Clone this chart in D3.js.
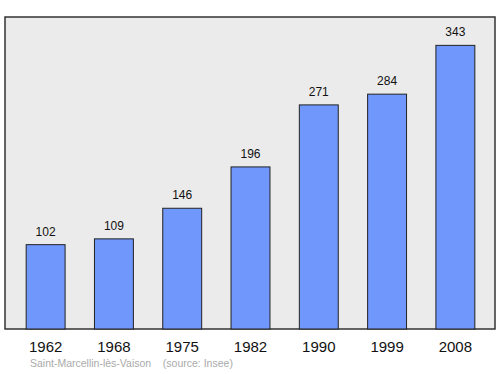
<!DOCTYPE html>
<html>
<head>
<meta charset="utf-8">
<script src="https://cdn.jsdelivr.net/npm/d3@7"></script>
<style>
  body { margin: 0; background: #fff; }
  text { font-family: "Liberation Sans", Arial, sans-serif; }
</style>
</head>
<body>
<div id="chart"></div>
<script>
var years = ['1962', '1968', '1975', '1982', '1990', '1999', '2008'];
var population = [102, 109, 146, 196, 271, 284, 343];
var sourceLabel = 'Saint-Marcellin-lès-Vaison    (source: Insee)';

const W = 500, H = 374;
const BOX = { LEFT: 5, TOP: 17, RIGHT: 495, BOTTOM: 329 };

var svg = d3.select('#chart').append('svg')
	.attr('width', W)
	.attr('height', H);

// background panel
svg.append('rect')
	.attr('x', BOX.LEFT)
	.attr('y', BOX.TOP)
	.attr('width', BOX.RIGHT - BOX.LEFT)
	.attr('height', BOX.BOTTOM - BOX.TOP)
	.attr('fill', '#ebebeb')
	.attr('stroke', '#333')
	.attr('stroke-width', 1.5);

var x = d3.scaleBand()
	.domain(years)
	.range([BOX.LEFT, BOX.RIGHT + 1])
	.paddingInner(0.43)
	.paddingOuter(0.31);

var y = d3.scaleLinear()
	.domain([0, d3.max(population) * 1.1])
	.range([BOX.BOTTOM, BOX.TOP]);

svg.selectAll('.bar')
	.data(population)
	.enter().append('rect')
	.attr('class', 'bar')
	.attr('x', function (d, i) { return x(years[i]); })
	.attr('width', x.bandwidth())
	.attr('y', function (d) { return y(d); })
	.attr('height', function (d) { return BOX.BOTTOM - y(d); })
	.attr('fill', '#7097fc')
	.attr('stroke', '#222')
	.attr('stroke-width', 1);

svg.selectAll('.val')
	.data(population)
	.enter().append('text')
	.attr('class', 'val')
	.attr('x', function (d, i) { return x(years[i]) + x.bandwidth() / 2; })
	.attr('y', function (d) { return y(d) - 9; })
	.attr('text-anchor', 'middle')
	.attr('font-size', 12)
	.attr('fill', '#111')
	.text(function (d) { return d; });

// year axis, no line or ticks
var xAxis = d3.axisBottom(x).tickSize(0).tickPadding(0);
var gx = svg.append('g')
	.attr('transform', 'translate(0,' + (BOX.BOTTOM + 23) + ')')
	.call(xAxis);
gx.select('.domain').remove();
gx.selectAll('text')
	.attr('dy', 0)
	.attr('font-size', 15)
	.attr('font-family', '"Liberation Sans", Arial, sans-serif')
	.attr('fill', '#111');

svg.append('text')
	.attr('x', 30)
	.attr('y', 367)
	.attr('font-size', 10.5)
	.attr('fill', '#aaa')
	.attr('xml:space', 'preserve')
	.style('white-space', 'pre')
	.text(sourceLabel);
</script>
</body>
</html>
